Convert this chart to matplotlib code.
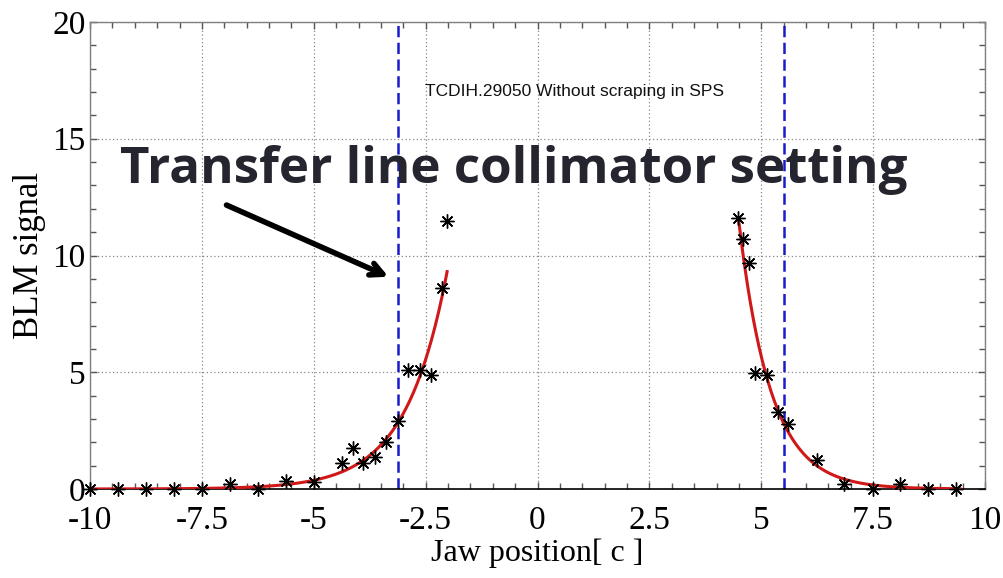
import numpy as np
import matplotlib
matplotlib.use("Agg")
import matplotlib.pyplot as plt
from matplotlib.ticker import MultipleLocator, FixedLocator

# ---- data ----
left_x = [-10.0, -9.375, -8.75, -8.125, -7.5, -6.875, -6.25, -5.625, -5.0,
          -4.36, -4.13, -3.89, -3.63, -3.39, -3.12, -2.89, -2.63, -2.39, -2.14, -2.02]
left_y = [0.0, 0.0, 0.0, 0.0, 0.0, 0.2, 0.0, 0.34, 0.31,
          1.1, 1.74, 1.1, 1.36, 2.0, 2.92, 5.1, 5.1, 4.88, 8.62, 11.48]
right_x = [4.49, 4.60, 4.73, 4.85, 5.12, 5.37, 5.60, 6.24, 6.86, 7.49, 8.10, 8.73, 9.35]
right_y = [11.59, 10.69, 9.67, 4.98, 4.88, 3.28, 2.77, 1.24, 0.2, 0.0, 0.21, 0.0, 0.0]

# exponential fit curves (parameters)
left_fit_range = (-10.0, -2.02)
left_fit_amp = 9.31      # value at the right end of the range
left_fit_rate = 1.08
right_fit_range = (4.49, 9.44)
right_fit_amp = 11.6     # value at the left end of the range
right_fit_rate = 1.4

collimator_settings = [-3.12, 5.5]

x_ticks = [-10, -7.5, -5, -2.5, 0, 2.5, 5, 7.5, 10]
x_tick_labels = ["-10", "-7.5", "-5", "-2.5", "0", "2.5", "5", "7.5", "10"]
y_ticks = [0, 5, 10, 15, 20]
y_tick_labels = ["0", "5", "10", "15", "20"]

title_text = "TCDIH.29050 Without scraping in SPS"
annot_text = "Transfer line collimator setting"

# ---- figure ----
fig = plt.figure(figsize=(10.04, 5.78), dpi=100)
ax = fig.add_axes([90 / 1004, (578 - 489) / 578, (985 - 90) / 1004, (489 - 22) / 578])

# fits
xl = np.linspace(*left_fit_range, 300)
ax.plot(xl, left_fit_amp * np.exp(left_fit_rate * (xl - left_fit_range[1])),
        color="#d01818", lw=2.2, zorder=3)
xr = np.linspace(*right_fit_range, 300)
ax.plot(xr, right_fit_amp * np.exp(-right_fit_rate * (xr - right_fit_range[0])),
        color="#d01818", lw=2.2, zorder=3)

# data
star = (8, 2, 0)
for xs, ys in [(left_x, left_y), (right_x, right_y)]:
    ax.plot(xs, ys, linestyle="none", marker=star, ms=10, mew=1.0,
            color="black", zorder=4, clip_on=False)

# collimator settings
for xc in collimator_settings:
    ax.axvline(xc, color="#1a1acc", lw=1.8, linestyle=(0, (4.5, 2.2)), zorder=2)

ax.set_xlim(-10, 10)
ax.set_ylim(0, 20)
ax.xaxis.set_major_locator(FixedLocator(x_ticks))
ax.set_xticklabels(x_tick_labels)
ax.xaxis.set_minor_locator(MultipleLocator(0.5))
ax.yaxis.set_major_locator(FixedLocator(y_ticks))
ax.set_yticklabels(y_tick_labels)
ax.yaxis.set_minor_locator(MultipleLocator(1))

ax.grid(which="major", linestyle=(0, (1, 2)), color="#888888", lw=0.9)
ax.set_axisbelow(True)

for side in ["left", "top", "right"]:
    ax.spines[side].set_color("#808080")
    ax.spines[side].set_linewidth(1.0)
ax.spines["bottom"].set_color("black")
ax.spines["bottom"].set_linewidth(1.2)

ax.tick_params(which="both", direction="in", top=True, right=True, color="#555555",
               width=1.0)
ax.tick_params(which="major", length=5)
ax.tick_params(which="minor", length=4)
serif = ["Liberation Serif", "DejaVu Serif"]
ax.tick_params(axis="x", which="major", pad=12)
ax.tick_params(axis="y", which="major", pad=3)
for lab in ax.get_xticklabels() + ax.get_yticklabels():
    lab.set_fontfamily(serif)
    lab.set_fontsize(24)

ax.set_xlabel("Jaw position[ c ]", fontsize=23, family=serif, labelpad=2)
ax.set_ylabel("BLM signal", fontsize=25, family=serif, labelpad=5)

ax.text(-2.51, 16.83, title_text, fontsize=12.5, family=["Liberation Sans"],
        ha="left", va="baseline", color="#111111")

annot = ax.text(-9.33, 13.1, annot_text, fontsize=38, family=["Open Sans"],
                fontweight="bold", ha="left", va="baseline", color="#25252f", zorder=6)

ax.annotate("", xy=(-3.33, 9.09), xytext=(-6.95, 12.16),
            arrowprops=dict(arrowstyle="->,head_length=0.9,head_width=0.45",
                            lw=4, color="black", shrinkA=0, shrinkB=0),
            zorder=6)

# fit annotation width to the reference span (about 788 px)
renderer = fig.canvas.get_renderer()
w = annot.get_window_extent(renderer).width
annot.set_fontsize(38 * 788 / w)

fig.savefig("out.png", dpi=100)
